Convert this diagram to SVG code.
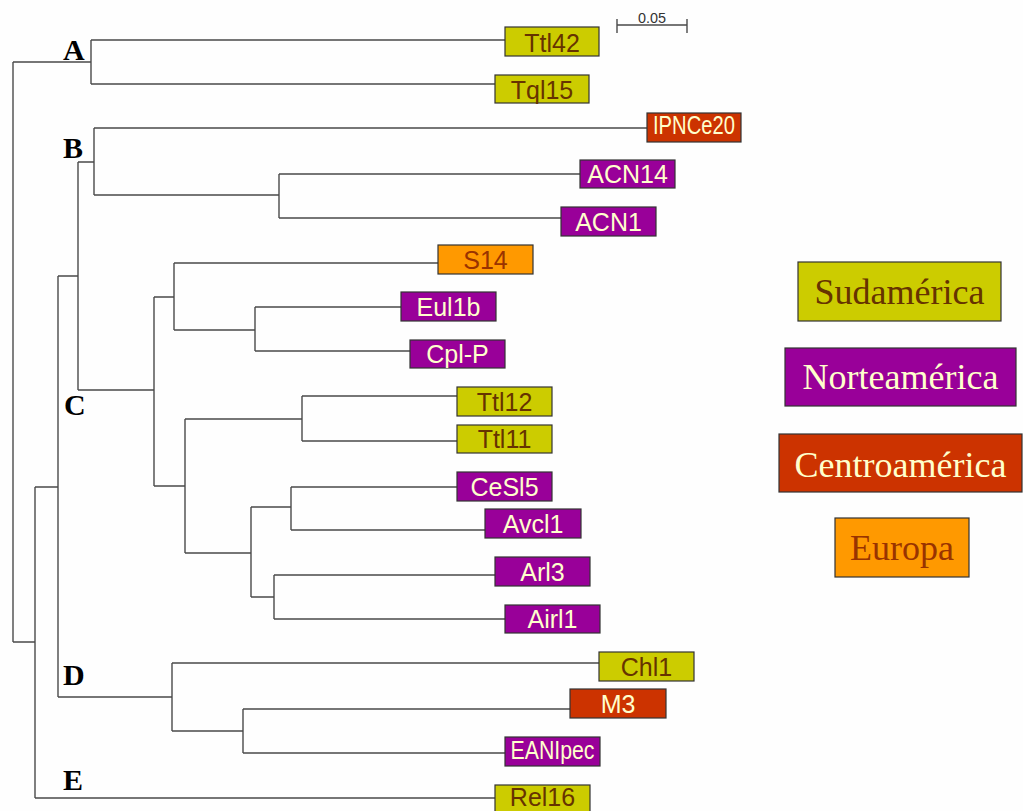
<svg xmlns="http://www.w3.org/2000/svg" width="1023" height="811" viewBox="0 0 1023 811">
<style>
.ln{fill:none;stroke:#4a4a4a;stroke-width:1.4}
.bx{stroke:#333;stroke-width:1.2}
.sa{fill:#cccc00}.na{fill:#990099}.ca{fill:#cc3300}.eu{fill:#ff9900}
.t{font-family:"Liberation Sans",Arial,sans-serif;font-size:25px;text-anchor:middle}
.tb{fill:#663300}.tc{fill:#ffffcc}.to{fill:#993300}
.cl{font-family:"Liberation Serif","Times New Roman",serif;font-weight:bold;font-size:30px;fill:#000}
.lg{font-family:"Liberation Serif","Times New Roman",serif;font-size:36px;text-anchor:middle}
</style>
<rect width="1023" height="811" fill="#fefefe"/>
<g id="connectors" class="ln">
<path d="M13,62V642"/>
<path d="M13,62H91M91,40V84M91,40H505M91,84H495"/>
<path d="M13,642H35M35,487V798M35,798H495"/>
<path d="M35,487H58M58,276V697"/>
<path d="M58,276H78M78,162V390"/>
<path d="M78,162H94M94,128V195M94,128H647M94,195H279M279,174V218M279,174H580M279,218H561"/>
<path d="M78,390H154M154,297V486"/>
<path d="M154,297H174M174,263V330M174,263H438M174,330H255M255,307V351M255,307H401M255,351H410"/>
<path d="M154,486H185M185,419V553"/>
<path d="M185,419H302M302,396V441M302,396H457M302,441H457"/>
<path d="M185,553H251M251,507V597"/>
<path d="M251,507H291M291,487V530M291,487H457M291,530H485"/>
<path d="M251,597H274M274,575V619M274,575H495M274,619H505"/>
<path d="M58,697H172M172,663V731M172,663H599M172,731H243M243,709V753M243,709H570M243,753H505"/>
</g>
<g id="scale-bar">
<path class="ln" d="M617,25H687M617,19V33M687,19V33"/>
<text x="652" y="23" font-family="Liberation Sans,Arial,sans-serif" font-size="15" fill="#333" text-anchor="middle" textLength="28" lengthAdjust="spacingAndGlyphs">0.05</text>
</g>
<g id="clade-labels">
<text class="cl" x="63" y="60">A</text>
<text class="cl" x="63" y="158">B</text>
<text class="cl" x="64" y="415">C</text>
<text class="cl" x="63" y="685">D</text>
<text class="cl" x="63" y="790">E</text>
</g>
<g id="Ttl42"><rect class="bx sa" x="505" y="27" width="94" height="29"/><text class="t tb" x="552" y="52">Ttl42</text></g>
<g id="Tql15"><rect class="bx sa" x="495" y="75" width="94" height="28"/><text class="t tb" x="542" y="99">Tql15</text></g>
<g id="IPNCe20"><rect class="bx ca" x="647" y="113" width="94" height="29"/><text class="t tc" x="694" y="134" font-size="18" textLength="82" lengthAdjust="spacingAndGlyphs">IPNCe20</text></g>
<g id="ACN14"><rect class="bx na" x="580" y="160" width="95" height="28"/><text class="t tc" x="627.5" y="183">ACN14</text></g>
<g id="ACN1"><rect class="bx na" x="561" y="207" width="95" height="29"/><text class="t tc" x="608.5" y="231">ACN1</text></g>
<g id="S14"><rect class="bx eu" x="438" y="245" width="95" height="29"/><text class="t to" x="485.5" y="269">S14</text></g>
<g id="Eul1b"><rect class="bx na" x="401" y="292" width="95" height="29"/><text class="t tc" x="448.5" y="316">Eul1b</text></g>
<g id="Cpl-P"><rect class="bx na" x="410" y="340" width="95" height="28"/><text class="t tc" x="457.5" y="363">Cpl-P</text></g>
<g id="Ttl12"><rect class="bx sa" x="457" y="387" width="95" height="29"/><text class="t tb" x="504.5" y="411">Ttl12</text></g>
<g id="Ttl11"><rect class="bx sa" x="457" y="425" width="95" height="28"/><text class="t tb" x="504.5" y="448">Ttl11</text></g>
<g id="CeSl5"><rect class="bx na" x="457" y="472" width="95" height="29"/><text class="t tc" x="504.5" y="496">CeSl5</text></g>
<g id="Avcl1"><rect class="bx na" x="485" y="509" width="96" height="29"/><text class="t tc" x="533" y="533">Avcl1</text></g>
<g id="Arl3"><rect class="bx na" x="495" y="557" width="95" height="29"/><text class="t tc" x="542.5" y="581">Arl3</text></g>
<g id="Airl1"><rect class="bx na" x="505" y="605" width="95" height="28"/><text class="t tc" x="552.5" y="628">Airl1</text></g>
<g id="Chl1"><rect class="bx sa" x="599" y="652" width="95" height="29"/><text class="t tb" x="646.5" y="676">Chl1</text></g>
<g id="M3"><rect class="bx ca" x="570" y="689" width="96" height="29"/><text class="t tc" x="618" y="713">M3</text></g>
<g id="EANIpec"><rect class="bx na" x="505" y="737" width="95" height="29"/><text class="t tc" x="552.5" y="759" font-size="21" textLength="84" lengthAdjust="spacingAndGlyphs">EANIpec</text></g>
<g id="Rel16"><rect class="bx sa" x="495" y="785" width="95" height="30"/><text class="t tb" x="542.5" y="806" font-size="23">Rel16</text></g>
<g id="legend-sudamerica"><rect class="bx sa" x="798" y="262" width="203" height="59"/><text class="lg tb" x="899.5" y="304">Sudamérica</text></g>
<g id="legend-norteamerica"><rect class="bx na" x="785" y="348" width="231" height="58"/><text class="lg tc" x="900.5" y="389">Norteamérica</text></g>
<g id="legend-centroamerica"><rect class="bx ca" x="779" y="434" width="243" height="58"/><text class="lg tc" x="900.5" y="477">Centroamérica</text></g>
<g id="legend-europa"><rect class="bx eu" x="835" y="518" width="134" height="59"/><text class="lg to" x="902" y="560">Europa</text></g>
</svg>
